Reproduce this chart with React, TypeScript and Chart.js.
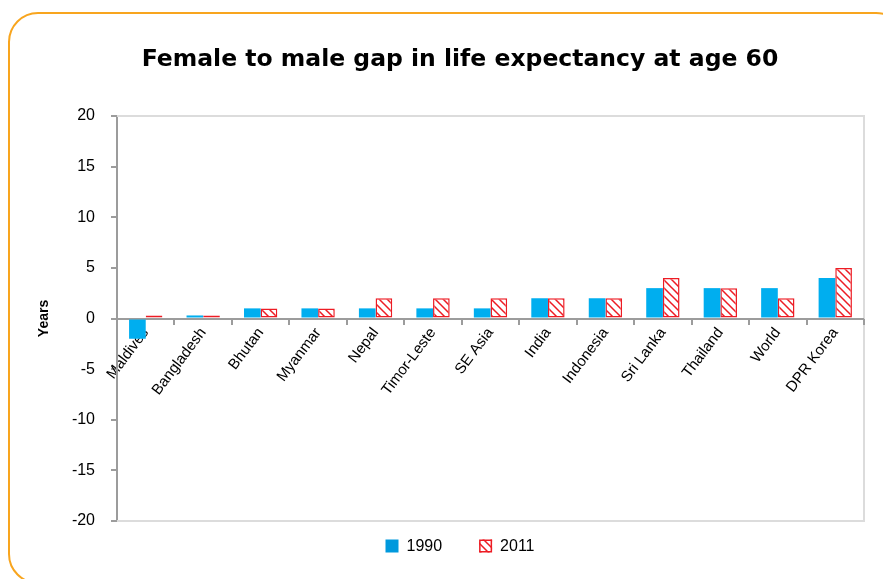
import React, { useEffect, useRef } from "react";
import { Chart, registerables } from "chart.js";

Chart.register(...registerables);

const categories = [
  "Maldives",
  "Bangladesh",
  "Bhutan",
  "Myanmar",
  "Nepal",
  "Timor-Leste",
  "SE Asia",
  "India",
  "Indonesia",
  "Sri Lanka",
  "Thailand",
  "World",
  "DPR Korea",
];
const values1990 = [-2, 0.3, 1, 1, 1, 1, 1, 2, 2, 3, 3, 3, 4];
const values2011 = [0.3, 0.3, 1, 1, 2, 2, 2, 2, 2, 4, 3, 2, 5];
const seriesLabels = ["1990", "2011"];
const titleText = "Female to male gap in life expectancy at age 60";
const yAxisTitle = "Years";
const yMin = -20;
const yMax = 20;
const yStep = 5;

const BLUE = "#00AEEF";
const RED = "#ED1C24";
const AXIS_GRAY = "#9c9c9c";
const FRAME_GRAY = "#dcdcdc";
const SANS = "'Liberation Sans', Arial, sans-serif";

function makeHatch(): CanvasPattern | string {
  const s = 8;
  const c = document.createElement("canvas");
  c.width = s;
  c.height = s;
  const ctx = c.getContext("2d");
  if (!ctx) return "#fff";
  ctx.fillStyle = "#ffffff";
  ctx.fillRect(0, 0, s, s);
  ctx.strokeStyle = RED;
  ctx.lineWidth = 1.5;
  ctx.beginPath();
  for (const k of [-s, 0, s]) {
    ctx.moveTo(k - 1, -1);
    ctx.lineTo(k + s + 1, s + 1);
  }
  ctx.stroke();
  const p = ctx.createPattern(c, "repeat");
  return p || "#fff";
}

const framePlugin = {
  id: "plotFrame",
  beforeDatasetsDraw(chart: any) {
    const { ctx, chartArea } = chart;
    const { left, right, top, bottom } = chartArea;
    ctx.save();
    ctx.strokeStyle = FRAME_GRAY;
    ctx.lineWidth = 2;
    ctx.beginPath();
    ctx.moveTo(left, top);
    ctx.lineTo(right, top);
    ctx.lineTo(right, bottom);
    ctx.lineTo(left, bottom);
    ctx.stroke();

    // category axis drawn at y = 0, with boundary tick marks below it
    const xs = chart.scales.x;
    const y0 = Math.round(chart.scales.y.getPixelForValue(0));
    ctx.strokeStyle = AXIS_GRAY;
    ctx.lineWidth = 2;
    ctx.beginPath();
    ctx.moveTo(left, y0);
    ctx.lineTo(right, y0);
    const n = xs.ticks.length;
    const step = n > 1 ? xs.getPixelForTick(1) - xs.getPixelForTick(0) : chartArea.width;
    for (let i = 1; i <= n; i++) {
      const x = Math.round(xs.getPixelForTick(i - 1) + step / 2);
      ctx.moveTo(x, y0);
      ctx.lineTo(x, y0 + 6);
    }
    ctx.stroke();
    ctx.restore();
  },
};

const customLegend = {
  id: "customLegend",
  afterDraw(chart: any) {
    const { ctx } = chart;
    const box = 13;
    const textGap = 8;
    const itemGap = 37;
    const centerY = 546;
    ctx.save();
    ctx.font = `16px ${SANS}`;
    const items = chart.data.datasets.map((ds: any) => {
      const w = ctx.measureText(ds.label).width;
      return { ds, w, total: box + textGap + w };
    });
    const totalWidth =
      items.reduce((a: number, it: any) => a + it.total, 0) + itemGap * (items.length - 1);
    let x = chart.width / 2 - totalWidth / 2;
    for (const it of items) {
      const y0 = centerY - box / 2;
      ctx.fillStyle = it.ds.legendColor || it.ds.backgroundColor;
      ctx.fillRect(x, y0, box, box);
      if (it.ds.borderWidth) {
        ctx.strokeStyle = it.ds.borderColor;
        ctx.lineWidth = 1.5;
        ctx.strokeRect(x + 0.75, y0 + 0.75, box - 1.5, box - 1.5);
      }
      ctx.fillStyle = "#000";
      ctx.textBaseline = "middle";
      ctx.textAlign = "left";
      ctx.fillText(it.ds.label, x + box + textGap, centerY + 1);
      x += it.total + itemGap;
    }
    ctx.restore();
  },
};

export default function App() {
  const ref = useRef<HTMLCanvasElement | null>(null);

  useEffect(() => {
    if (!ref.current) return;
    const hatch = makeHatch();
    const chart = new Chart(ref.current, {
      type: "bar",
      data: {
        labels: categories,
        datasets: [
          {
            label: seriesLabels[0],
            data: values1990,
            backgroundColor: BLUE,
            legendColor: "#0099DD",
            borderWidth: 0,
            barPercentage: 1,
            categoryPercentage: 0.58,
          } as any,
          {
            label: seriesLabels[1],
            data: values2011,
            backgroundColor: hatch,
            borderColor: RED,
            borderWidth: 1.5,
            borderSkipped: false,
            barPercentage: 1,
            categoryPercentage: 0.58,
          } as any,
        ],
      },
      options: {
        responsive: false,
        animation: false,
        layout: { padding: { left: 20, right: 20, top: 0, bottom: 58 } },
        plugins: {
          legend: { display: false },
          tooltip: { enabled: false },
          title: {
            display: true,
            text: titleText,
            color: "#000",
            font: { family: "'DejaVu Sans', Verdana, sans-serif", size: 23.5, weight: "bold" },
            padding: { top: 46, bottom: 41.8 },
          },
        },
        scales: {
          x: {
            position: { y: 0 } as any,
            grid: {
              drawOnChartArea: false,
              drawTicks: true,
              tickLength: 6,
              color: "rgba(0,0,0,0)",
              lineWidth: 2,
              offset: true,
            },
            border: { display: false },
            ticks: {
              autoSkip: false,
              maxRotation: 53,
              minRotation: 53,
              color: "#000",
              padding: 0,
              font: { family: SANS, size: 15 },
            },
          },
          y: {
            min: yMin,
            max: yMax,
            afterFit: (scale: any) => {
              scale.width = 97;
            },
            ticks: {
              stepSize: yStep,
              color: "#000",
              padding: 16,
              font: { family: SANS, size: 16 },
            },
            grid: {
              drawOnChartArea: false,
              drawTicks: true,
              tickLength: 6,
              color: AXIS_GRAY,
              lineWidth: 2,
            },
            border: { display: true, color: AXIS_GRAY, width: 2 },
            title: {
              display: true,
              text: yAxisTitle,
              color: "#000",
              font: { family: SANS, size: 14, weight: "bold" },
              padding: { top: 16, bottom: 0 },
            },
          },
          ySpacer: {
            position: "right",
            display: true,
            afterFit: (scale: any) => {
              scale.width = 36;
            },
            grid: { display: false },
            border: { display: false },
            ticks: { display: false },
          },
        },
      },
      plugins: [framePlugin, customLegend],
    });
    return () => chart.destroy();
  }, []);

  return (
    <div
      style={{
        position: "fixed",
        left: 0,
        top: 0,
        width: 883,
        height: 579,
        overflow: "hidden",
        background: "#fff",
      }}
    >
      <div
        style={{
          position: "absolute",
          left: 8,
          top: 12,
          width: 898,
          height: 572,
          border: "2.5px solid #F8A51E",
          borderRadius: 30,
          boxSizing: "border-box",
        }}
      />
      <canvas
        ref={ref}
        width={920}
        height={579}
        style={{ position: "absolute", left: 0, top: 0, width: 920, height: 579 }}
      />
    </div>
  );
}
